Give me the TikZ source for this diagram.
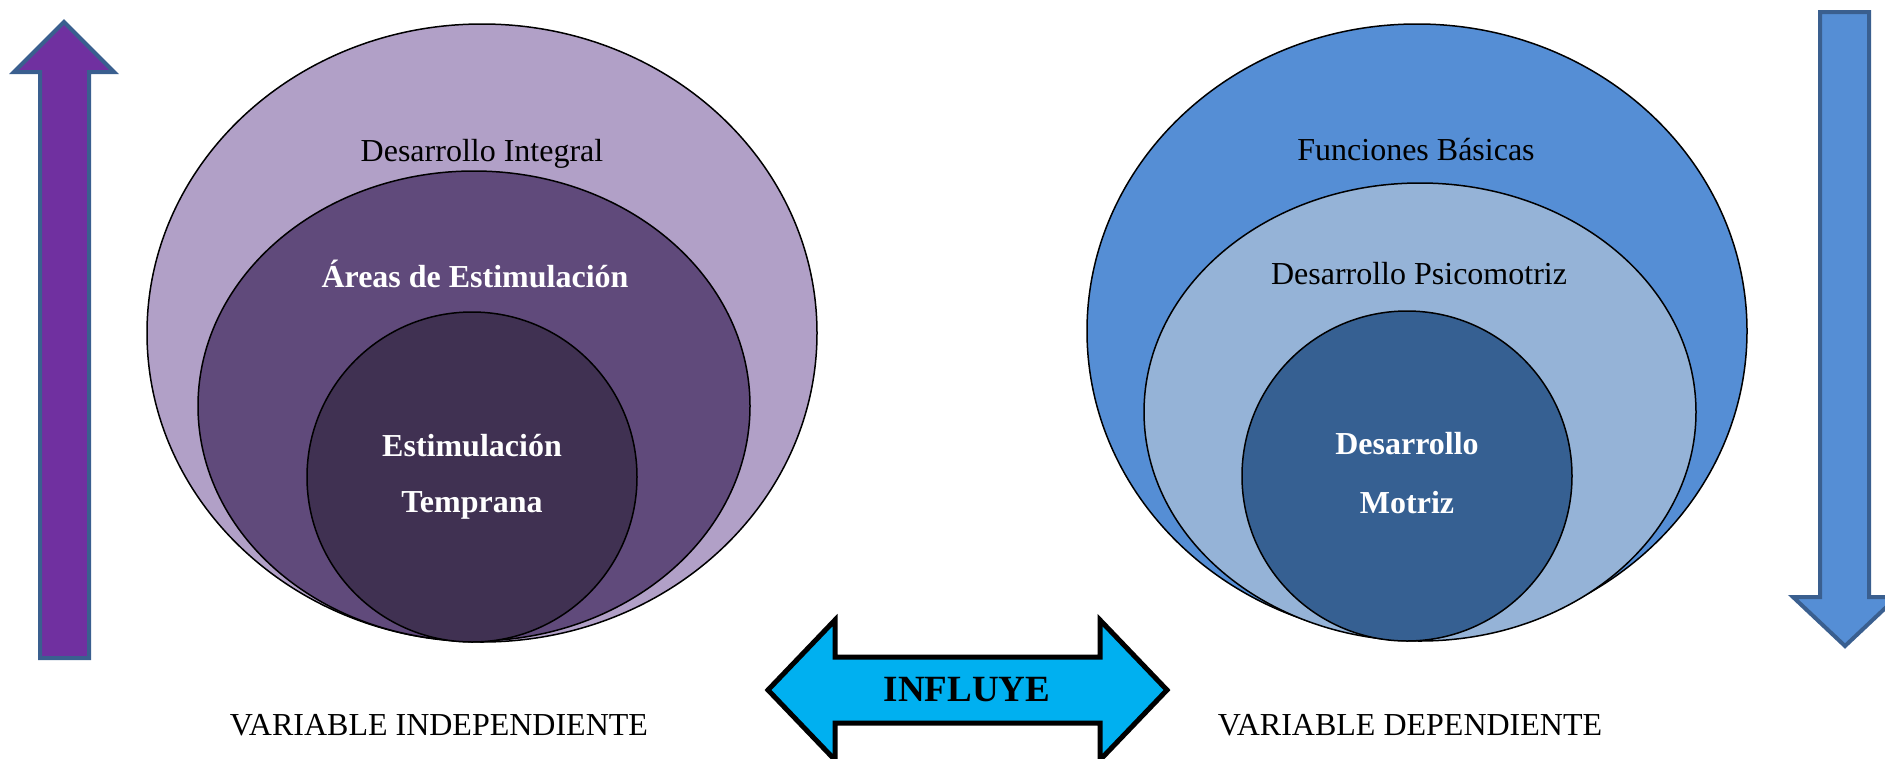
\documentclass[tikz,border=0pt]{standalone}
\usepackage{fontspec}
\setmainfont{Liberation Serif}
\usetikzlibrary{positioning}
\definecolor{lavanda}{HTML}{B1A0C7}
\definecolor{moradomedio}{HTML}{604A7B}
\definecolor{moradoosc}{HTML}{403152}
\definecolor{moradoflecha}{HTML}{7030A0}
\definecolor{azulfuerte}{HTML}{558ED5}
\definecolor{azulclaro}{HTML}{95B3D7}
\definecolor{azulosc}{HTML}{366092}
\definecolor{bordeazul}{HTML}{3A5F8F}
\definecolor{celeste}{HTML}{00B0F0}
\tikzset{
  circulo/.style={draw=black, line width=1.5pt},
  flecha/.style={draw=bordeazul, line width=4pt},
  texto/.style={font=\fontsize{32}{38}\selectfont, inner sep=0pt},
  textob/.style={font=\fontsize{32}{38}\selectfont\bfseries, text=white, inner sep=0pt},
}

\begin{document}
\begin{tikzpicture}[x=1pt, y=-1pt]
  \useasboundingbox (0,0) rectangle (1885,758);
  % flechas laterales
  \draw[flecha, fill=moradoflecha] (40,658) -- (40,72) -- (14,72) -- (64,22)
    -- (114,72) -- (89,72) -- (89,658) -- cycle;
  \draw[flecha, fill=azulfuerte] (1820,12) -- (1869,12) -- (1869,597) -- (1897,597)
    -- (1845,646) -- (1793,597) -- (1820,597) -- cycle;

  % variable independiente
  \draw[circulo, fill=lavanda] (482,333) ellipse [x radius=335pt, y radius=309pt];
  \draw[circulo, fill=moradomedio] (474,406) ellipse [x radius=276pt, y radius=235pt];
  \draw[circulo, fill=moradoosc] (472,477) circle [radius=165pt];
  \node[texto] (integral) at (482,154) {Desarrollo Integral};
  \node[textob] (areas) at (475,274) {Áreas de Estimulación};
  \node[textob] (estim) at (472,446) {Estimulación};
  \node[textob] (temprana) at (472,505) {Temprana};

  % variable dependiente
  \draw[circulo, fill=azulfuerte] (1417,331) ellipse [x radius=330pt, y radius=307pt];
  \draw[circulo, fill=azulclaro] (1420,412) ellipse [x radius=276pt, y radius=229pt];
  \draw[circulo, fill=azulosc] (1407,476) circle [radius=165pt];
  \node[texto] (funciones) at (1416,150) {Funciones Básicas};
  \node[texto] (psico) at (1419,274) {Desarrollo Psicomotriz};
  \node[textob] (desarrollo) at (1407,444) {Desarrollo};
  \node[textob] (motriz) at (1407,503) {Motriz};

  % flecha doble
  \draw[line width=5pt, fill=celeste] (768,690) -- (835,620) -- (835,657) -- (1100,657)
    -- (1100,620) -- (1167,690) -- (1100,760) -- (1100,723) -- (835,723)
    -- (835,760) -- cycle;
  \node[font=\fontsize{37}{44}\selectfont\bfseries, inner sep=0pt] (influye) at (967,690) {INFLUYE};

  \node[texto] (vi) at (439,725) {VARIABLE INDEPENDIENTE};
  \node[texto] (vd) at (1410,725) {VARIABLE DEPENDIENTE};
\end{tikzpicture}
\end{document}
